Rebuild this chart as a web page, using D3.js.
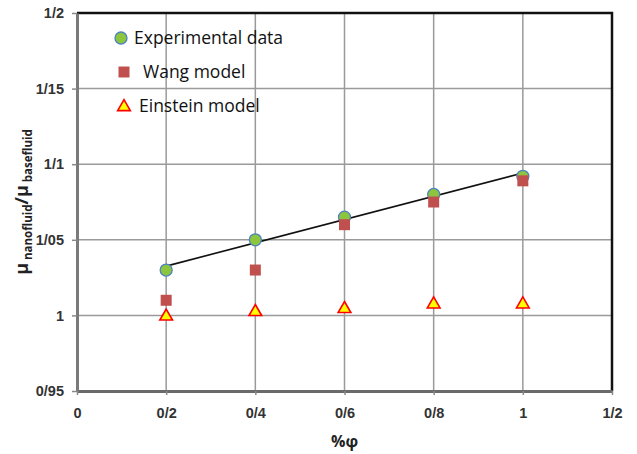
<!DOCTYPE html>
<html>
<head>
<meta charset="utf-8">
<script src="https://cdn.jsdelivr.net/npm/d3@7"></script>
<style>
  body { margin: 0; background: #fff; }
  svg { font-family: "Open Sans", "Liberation Sans", sans-serif; }
  .tick text { font-weight: bold; font-size: 14.5px; fill: #333; }
  .legend text { font-size: 17.5px; fill: #111; }
</style>
</head>
<body>
<svg id="chart"></svg>
<script>
// volume fraction values (%φ)
const phi = [0.2, 0.4, 0.6, 0.8, 1.0];
const experimental = [1.030, 1.050, 1.065, 1.080, 1.092];
const wangModel = [1.010, 1.030, 1.060, 1.075, 1.089];
const einsteinModel = [1.000, 1.003, 1.005, 1.008, 1.008];

const xTicks = [0, 0.2, 0.4, 0.6, 0.8, 1.0, 1.2];
const yTicks = [0.95, 1.0, 1.05, 1.1, 1.15, 1.2];
const xTickLabels = ['0', '0/2', '0/4', '0/6', '0/8', '1', '1/2'];
const yTickLabels = ['0/95', '1', '1/05', '1/1', '1/15', '1/2'];

const config = {
  width: 637, height: 454,
  margin: {top: 13, right: 25, bottom: 63, left: 77}
};

const svg = d3.select('#chart')
    .attr('width', config.width)
    .attr('height', config.height);

const w = config.width - config.margin.left - config.margin.right;
const h = config.height - config.margin.top - config.margin.bottom;

const xScale = d3.scaleLinear().domain([0, 1.2]).range([0, w]);
const yScale = d3.scaleLinear().domain([0.95, 1.2]).range([h, 0]);

const chart = svg.append('g')
    .attr('transform', `translate(${config.margin.left},${config.margin.top})`);

// gridlines
chart.append('g').selectAll('line.vgrid')
    .data(xTicks.slice(1, -1))
  .join('line')
    .attr('x1', d => xScale(d)).attr('x2', d => xScale(d))
    .attr('y1', 0).attr('y2', h)
    .attr('stroke', '#9a9a9a').attr('stroke-width', 1.5);

chart.append('g').selectAll('line.hgrid')
    .data(yTicks.slice(1, -1))
  .join('line')
    .attr('x1', 0).attr('x2', w)
    .attr('y1', d => yScale(d)).attr('y2', d => yScale(d))
    .attr('stroke', '#9a9a9a').attr('stroke-width', 1.5);

// top & right border
chart.append('path')
    .attr('d', `M0,0H${w}V${h}`)
    .attr('fill', 'none')
    .attr('stroke', '#111')
    .attr('stroke-width', 2.5);

// axes
const xAxis = d3.axisBottom(xScale)
    .tickValues(xTicks)
    .tickFormat((d, i) => xTickLabels[i])
    .tickSizeInner(4).tickSizeOuter(0).tickPadding(13);

const yAxis = d3.axisLeft(yScale)
    .tickValues(yTicks)
    .tickFormat((d, i) => yTickLabels[i])
    .tickSizeInner(5).tickSizeOuter(0).tickPadding(8);

const xAxisG = chart.append('g')
    .attr('transform', `translate(0,${h})`)
    .call(xAxis);
const yAxisG = chart.append('g').call(yAxis);

xAxisG.select('.domain').attr('stroke', '#6a6a6a').attr('stroke-width', 3);
yAxisG.select('.domain').attr('stroke', '#7a7a7a').attr('stroke-width', 3);
xAxisG.selectAll('.tick line').attr('stroke', '#888').attr('stroke-width', 1.5);
yAxisG.selectAll('.tick line').attr('stroke', '#888').attr('stroke-width', 1.5);

// linear trendline of experimental data
const mx = d3.mean(phi), my = d3.mean(experimental);
const slope = d3.sum(phi, (x, i) => (x - mx) * (experimental[i] - my)) /
              d3.sum(phi, x => (x - mx) * (x - mx));
const intercept = my - slope * mx;
const x0 = phi[0], x1 = phi[phi.length - 1];
chart.append('line')
    .attr('x1', xScale(x0)).attr('y1', yScale(intercept + slope * x0))
    .attr('x2', xScale(x1)).attr('y2', yScale(intercept + slope * x1))
    .attr('stroke', '#111').attr('stroke-width', 1.6);

// markers
const circleStyle = s => s.attr('r', 6).attr('fill', '#8cc63f')
    .attr('stroke', '#4f81bd').attr('stroke-width', 1.3);
const squareSize = 11;
const squareStyle = s => s.attr('width', squareSize).attr('height', squareSize)
    .attr('fill', '#c0504d');
const triangle = d3.symbol().type(d3.symbolTriangle).size(70);
const triStyle = s => s.attr('d', triangle).attr('fill', '#ffff00')
    .attr('stroke', '#ff0000').attr('stroke-width', 1.6);

chart.selectAll('.exp')
    .data(phi)
  .join('circle')
    .attr('class', 'exp')
    .attr('cx', d => xScale(d))
    .attr('cy', (d, i) => yScale(experimental[i]))
    .call(circleStyle);

chart.selectAll('.wang')
    .data(phi)
  .join('rect')
    .attr('class', 'wang')
    .attr('x', d => xScale(d) - squareSize / 2)
    .attr('y', (d, i) => yScale(wangModel[i]) - squareSize / 2)
    .call(squareStyle);

chart.selectAll('.einstein')
    .data(phi)
  .join('path')
    .attr('class', 'einstein')
    .attr('transform', (d, i) => `translate(${xScale(d)},${yScale(einsteinModel[i]) + 1})`)
    .call(triStyle);

// legend
const legend = svg.append('g').attr('class', 'legend');
const legendItems = [
  {label: 'Experimental data', y: 38, tx: 134},
  {label: 'Wang model', y: 72, tx: 143},
  {label: 'Einstein model', y: 106, tx: 139}
];

legend.append('circle').attr('cx', 121).attr('cy', legendItems[0].y).call(circleStyle);
legend.append('rect')
    .attr('x', 124 - squareSize / 2).attr('y', legendItems[1].y - squareSize / 2)
    .call(squareStyle);
legend.append('path')
    .attr('transform', `translate(124,${legendItems[2].y + 1})`)
    .call(triStyle);

legend.selectAll('text')
    .data(legendItems)
  .join('text')
    .attr('x', d => d.tx)
    .attr('y', d => d.y)
    .attr('dy', '0.35em')
    .text(d => d.label);

// axis titles
svg.append('text')
    .attr('x', 331).attr('y', 447)
    .attr('font-weight', 'bold').attr('font-size', 16)
    .attr('fill', '#222')
    .text('%φ');

const yTitle = svg.append('text')
    .attr('transform', 'translate(28,202) rotate(-90)')
    .attr('text-anchor', 'middle')
    .attr('font-weight', 'bold')
    .attr('fill', '#222');
yTitle.append('tspan').attr('font-size', 18).text('μ');
yTitle.append('tspan').attr('font-size', 11.5).attr('dy', 4).text(' nanofluid');
yTitle.append('tspan').attr('font-size', 18).attr('dy', -4).text('/μ');
yTitle.append('tspan').attr('font-size', 11.5).attr('dy', 4).text(' basefluid');
</script>
</body>
</html>
